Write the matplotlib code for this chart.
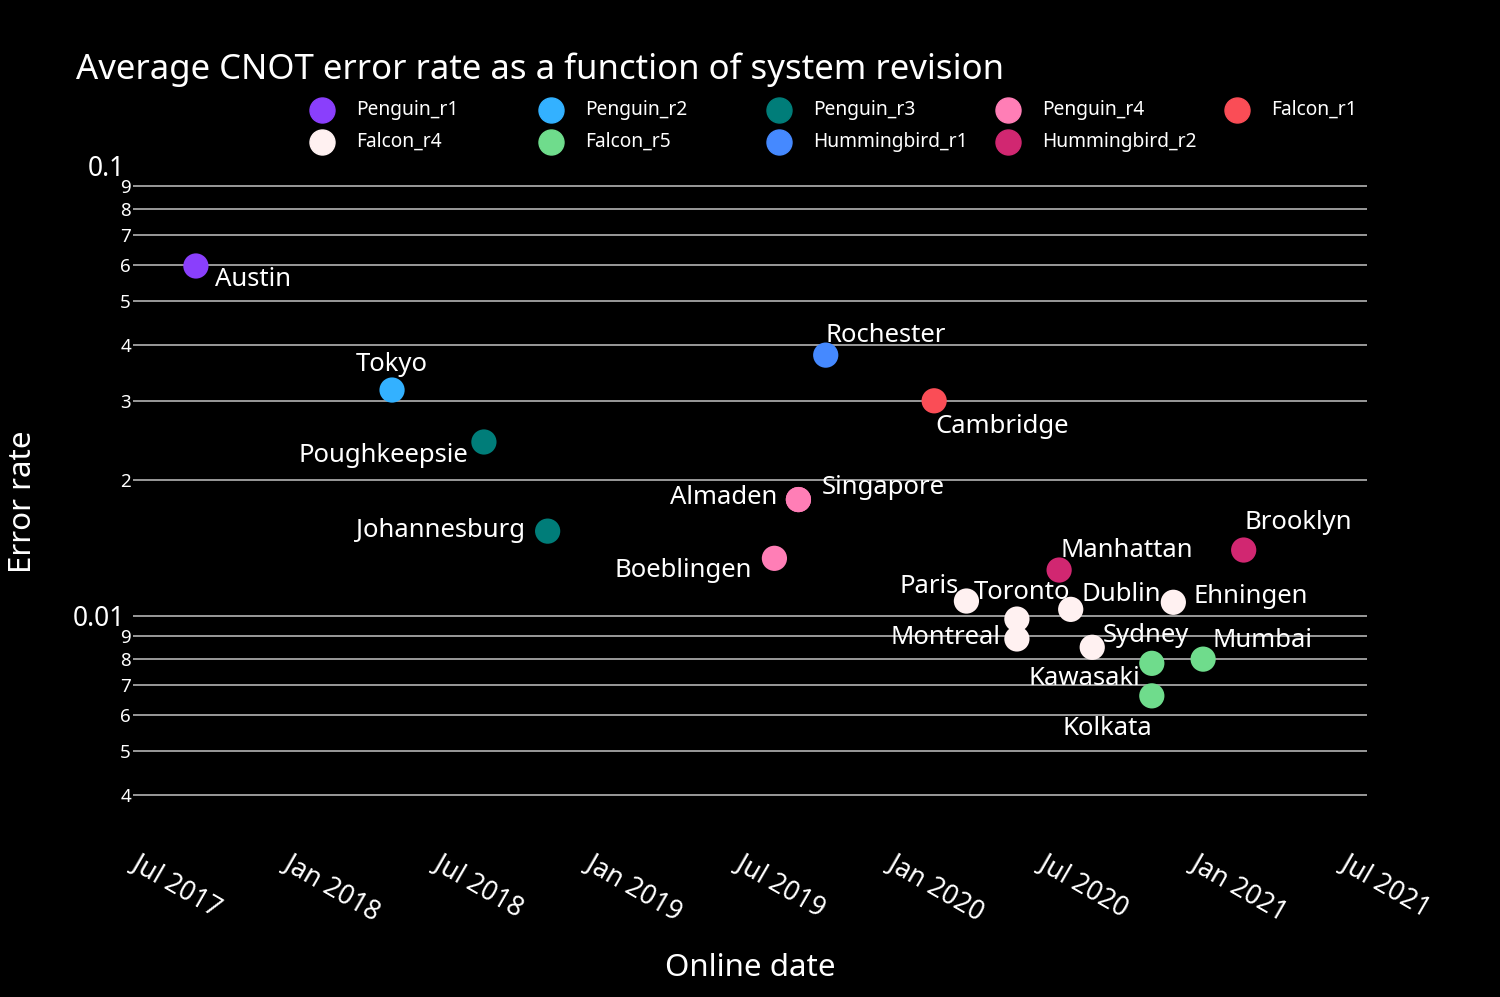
import matplotlib
matplotlib.use('Agg')
import matplotlib.pyplot as plt
import matplotlib.dates as mdates
from matplotlib.lines import Line2D
from matplotlib.ticker import FixedLocator, FuncFormatter
from matplotlib.transforms import ScaledTranslation
import numpy as np
import pandas as pd

plt.rcParams['font.family'] = ['Noto Sans', 'DejaVu Sans']

# ---- data ----
systems = ["Austin", "Tokyo", "Poughkeepsie", "Johannesburg", "Almaden", "Singapore",
           "Boeblingen", "Rochester", "Cambridge", "Paris", "Toronto", "Montreal",
           "Manhattan", "Dublin", "Sydney", "Kawasaki", "Kolkata", "Ehningen",
           "Mumbai", "Brooklyn"]
online = ["2017-09-15", "2018-05-10", "2018-08-29", "2018-11-14", "2019-09-13", "2019-09-13",
          "2019-08-15", "2019-10-16", "2020-02-24", "2020-04-03", "2020-06-03", "2020-06-03",
          "2020-07-24", "2020-08-07", "2020-09-02", "2020-11-13", "2020-11-13", "2020-12-09",
          "2021-01-14", "2021-03-04"]
error = [0.0598, 0.0317, 0.0243, 0.0154, 0.0181, 0.0181,
         0.0134, 0.0379, 0.0300, 0.01077, 0.00982, 0.00887,
         0.01262, 0.01032, 0.00850, 0.00783, 0.00663, 0.01070,
         0.00800, 0.01398]
revision = ["Penguin_r1", "Penguin_r2", "Penguin_r3", "Penguin_r3", "Penguin_r4", "Penguin_r4",
            "Penguin_r4", "Hummingbird_r1", "Falcon_r1", "Falcon_r4", "Falcon_r4", "Falcon_r4",
            "Hummingbird_r2", "Falcon_r4", "Falcon_r4", "Falcon_r5", "Falcon_r5", "Falcon_r4",
            "Falcon_r5", "Hummingbird_r2"]
revisions = ["Penguin_r1", "Penguin_r2", "Penguin_r3", "Penguin_r4", "Falcon_r1",
             "Falcon_r4", "Falcon_r5", "Hummingbird_r1", "Hummingbird_r2"]
colors = {"Penguin_r1": "#8a3ffc", "Penguin_r2": "#33b1ff", "Penguin_r3": "#007d79",
          "Penguin_r4": "#ff7eb6", "Falcon_r1": "#fa4d56", "Falcon_r4": "#fff1f1",
          "Falcon_r5": "#6fdc8c", "Hummingbird_r1": "#4589ff", "Hummingbird_r2": "#d12771"}

# label placement (pixels from marker centre to text baseline anchor)
label_pos = {
    "Austin": (19, -20, 'left'), "Tokyo": (0, 19, 'center'),
    "Poughkeepsie": (-16, -20, 'right'), "Johannesburg": (-23, -6, 'right'),
    "Almaden": (-21, -4, 'right'), "Singapore": (23, 6, 'left'),
    "Boeblingen": (-22, -19, 'right'), "Rochester": (0, 13, 'left'),
    "Cambridge": (1, -32, 'left'), "Paris": (-8, 8, 'right'),
    "Toronto": (5, 20, 'center'), "Montreal": (-16, -5, 'right'),
    "Manhattan": (1, 13, 'left'), "Dublin": (11, 8, 'left'),
    "Sydney": (11, 5, 'left'), "Kawasaki": (-12, -22, 'right'),
    "Kolkata": (0, -39, 'right'), "Ehningen": (20, -1, 'left'),
    "Mumbai": (9, 12, 'left'), "Brooklyn": (1, 21, 'left'),
}

df = pd.DataFrame({"system": systems, "date": pd.to_datetime(online),
                   "error": error, "rev": revision})

fig = plt.figure(figsize=(15, 9.97), dpi=100, facecolor='black')
ax = fig.add_axes([133/1500, 1 - 820.7/997, (1367-133)/1500, (820.7-165.5)/997])
ax.set_facecolor('black')

for rev in revisions:
    d = df[df.rev == rev]
    ax.scatter(d.date, d.error, s=330, color=colors[rev], edgecolors='none', zorder=3)

for _, r in df.iterrows():
    dx, dy, ha = label_pos[r.system]
    ax.annotate(r.system, (r.date, r.error), xytext=(dx, dy), textcoords='offset pixels',
                ha=ha, va='baseline', color='white', fontsize=18.5, zorder=4)

ax.set_yscale('log')
ax.set_ylim(0.0035, 0.1)
ax.set_xlim(pd.Timestamp("2017-07-01"), pd.Timestamp("2021-07-31"))

minor = [m * 0.001 for m in range(4, 10)] + [m * 0.01 for m in range(2, 10)]
ax.yaxis.set_major_locator(FixedLocator([0.01, 0.1]))
ax.yaxis.set_major_formatter(FuncFormatter(lambda v, p: "0.1" if v > 0.05 else "0.01"))
ax.yaxis.set_minor_locator(FixedLocator(minor))
ax.yaxis.set_minor_formatter(FuncFormatter(lambda v, p: str(int(round(v / 10 ** np.floor(np.log10(v)))))))
ax.tick_params(axis='y', which='major', length=0, pad=6, labelsize=19, labelcolor='white')
ax.tick_params(axis='y', which='minor', length=0, pad=1.5, labelsize=13.5, labelcolor='white')
for v in minor + [0.01]:
    ax.axhline(v, color='#9a9a9a', linewidth=1.4, zorder=1)

ax.xaxis.set_major_locator(mdates.MonthLocator(bymonth=[1, 7]))
ax.xaxis.set_major_formatter(mdates.DateFormatter('%b %Y'))
ax.tick_params(axis='x', length=0, pad=21, labelsize=19, labelcolor='white')
shift = ScaledTranslation(8/100, 0, fig.dpi_scale_trans)
for lab in ax.get_xticklabels():
    lab.set_rotation(-30)
    lab.set_ha('left')
    lab.set_va('top')
    lab.set_rotation_mode('anchor')
    lab.set_transform(lab.get_transform() + shift)

for s in ax.spines.values():
    s.set_visible(False)

fig.text(750/1500, 1 - 968/997, "Online date", color='white', fontsize=22.5,
         ha='center', va='center')
fig.text(23/1500, 1 - 502/997, "Error rate", color='white', fontsize=22.5,
         ha='center', va='center', rotation=90)

fig.text(76/1500, 1 - 70/997, "Average CNOT error rate as a function of system revision",
         color='white', fontsize=25, va='center', ha='left')

# legend, row-major like the original
for i, rev in enumerate(revisions):
    row, col = divmod(i, 5)
    lx = (322 + col * 228.7) / 1500
    ly = 1 - (110 + row * 32) / 997
    fig.add_artist(Line2D([lx], [ly], marker='o', markersize=18, color=colors[rev],
                          linestyle='none', transform=fig.transFigure))
    fig.text(lx + 34/1500, ly, rev, color='white', fontsize=13.8, va='center', ha='left')

fig.savefig("out.png", dpi=100, facecolor='black')
